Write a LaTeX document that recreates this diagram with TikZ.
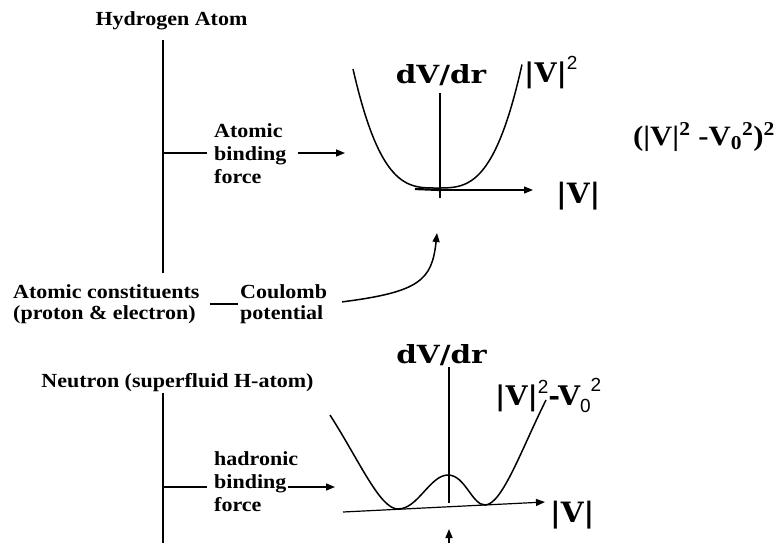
\documentclass[tikz,border=0pt]{standalone}
\usepackage{fontspec}
\usepackage{tikz}
\usetikzlibrary{arrows.meta}
\newfontfamily\lblfamily[FakeStretch=1.1]{Liberation Serif}
\newfontfamily\wideserif[FakeStretch=1.18]{DejaVu Serif}
\newfontfamily\plotserif[FakeStretch=1.05]{DejaVu Serif}
\newfontfamily\supsans{Liberation Sans}
\newcommand{\lblfnt}{\lblfamily\bfseries\fontsize{20}{23}\selectfont}
\newcommand{\supnum}[2]{\raisebox{#1}{\supsans\mdseries\fontsize{19}{19}\selectfont #2}}
\tikzset{
  diagarrow/.style={-{Triangle[length=9pt,width=7pt]}, line width=1.5pt},
  diagtrunk/.style={line width=2pt},
  diagbranch/.style={line width=1.5pt},
  diagaxis/.style={line width=1.2pt},
  diagcurve/.style={line width=1.5pt},
  diaglabel/.style={font=\lblfnt, inner sep=0pt, align=left},
  diagsym/.style={inner sep=0pt, font=\plotserif\bfseries\fontsize{26}{28}\selectfont},
  diagdvdr/.style={inner sep=0pt, font=\wideserif\bfseries\fontsize{25}{27}\selectfont}
}
\begin{document}
\begin{tikzpicture}[x=1pt,y=-1pt]
  \useasboundingbox (0,0) rectangle (781,543);

  % hydrogen atom tree
  \node[diaglabel, anchor=base] (hatom) at (171.5,26) {Hydrogen Atom};
  \node[diaglabel, anchor=north west] (hbind) at (214,123)
    {Atomic\\binding\\force};
  \node[diaglabel, anchor=north west] (hcons) at (13,284)
    {Atomic constituents\\[-2pt](proton \& electron)};
  \node[diaglabel, anchor=north west] (hcoul) at (240,284)
    {Coulomb\\[-2pt]potential};
  \coordinate (htop) at (163,40);
  \coordinate (hbot) at (163,273);
  \coordinate (hjoin) at (163,153);
  \coordinate (hin) at (345,153);
  \coordinate (hcoulin) at (437,233);

  \draw[diagtrunk] (htop) -- (hbot);
  \draw[diagbranch, shorten >=7pt] (hjoin) -- (hbind.west |- hjoin);
  \draw[diagarrow, shorten <=11pt] (hbind.east |- hin) -- (hin);
  \draw[diagbranch, shorten <=10pt, shorten >=2pt] (hcons.east) -- (hcoul.west);
  \draw[diagarrow, shorten <=15pt] (hcoul.east) .. controls (420,292)
    and (432,280) .. (hcoulin);

  % first potential
  \coordinate (paxtop) at (440,93);
  \coordinate (paxbot) at (440,198);
  \coordinate (porigin) at (440,190);
  \coordinate (pxend) at (533,190);
  \draw[diagaxis] (paxtop) -- (paxbot);
  \draw[diagaxis, -{Triangle[length=9pt,width=7pt]}] (porigin) -- (pxend);
  \draw[line width=2.2pt] (415,189) -- (porigin);
  \draw[diagcurve] plot[domain=-84:85, samples=81]
    ({437+\x},{188-119*(abs(\x)/84+0.0001)^3.1});
  \node[diagdvdr, anchor=base] (pdvdr) at (441,83) {dV/dr};
  \node[diagsym, font=\plotserif\bfseries\fontsize{27}{29}\selectfont,
    anchor=base west] (psq) at (524,82) {|V|\supnum{13pt}{2}};
  \node[diagsym, font=\plotserif\bfseries\fontsize{28}{30}\selectfont,
    anchor=base west] (pabs) at (556,203) {|V|};
  \node[diaglabel, font=\lblfamily\bfseries\fontsize{28}{30}\selectfont,
    anchor=base west] (pquart) at (633,145)
    {(|V|\textsuperscript{2} -V\textsubscript{0}\textsuperscript{2})\textsuperscript{2}};

  % neutron tree
  \node[diaglabel, anchor=base] (neut) at (177.5,387)
    {Neutron (superfluid H-atom)};
  \node[diaglabel, anchor=north west] (nbind) at (214,451)
    {hadronic\\binding\\force};
  \coordinate (ntop) at (163,393);
  \coordinate (nbot) at (163,543);
  \coordinate (njoin) at (163,487);
  \coordinate (nin) at (335,487);

  \draw[diagtrunk] (ntop) -- (nbot);
  \draw[diagbranch, shorten >=7pt] (njoin) -- (nbind.west |- njoin);
  \draw[diagarrow, shorten <=-10pt] (nbind.east |- nin) -- (nin);

  % second potential
  \coordinate (qaxtop) at (449,367);
  \coordinate (qaxbot) at (449,503);
  \coordinate (qxstart) at (343,512);
  \coordinate (qxend) at (545,502);
  \coordinate (qunder) at (449,543);
  \coordinate (qup) at (449,529);
  \draw[diagaxis] (qaxtop) -- (qaxbot);
  \draw[diagarrow, line width=1.2pt] (qxstart) -- (qxend);
  \draw[diagcurve] (330,415) .. controls (360,462) and (380,509) .. (398,509)
    .. controls (418,509) and (430,475) .. (448,475)
    .. controls (465,475) and (472,505) .. (485,505)
    .. controls (502,505) and (522,448) .. (546,400);
  \node[diagdvdr, anchor=base] (qdvdr) at (441.5,363) {dV/dr};
  \node[diagsym, font=\plotserif\bfseries\fontsize{27}{29}\selectfont,
    anchor=base west] (qsq) at (495,405)
    {|V|\supnum{12pt}{2}-V\raisebox{-7pt}{\supsans\mdseries\fontsize{19}{19}\selectfont 0}\supnum{14pt}{2}};
  \node[diagsym, font=\plotserif\bfseries\fontsize{28}{30}\selectfont,
    anchor=base west] (qabs) at (550,522) {|V|};
  \draw[diagarrow] (qunder) -- (qup);
\end{tikzpicture}
\end{document}
